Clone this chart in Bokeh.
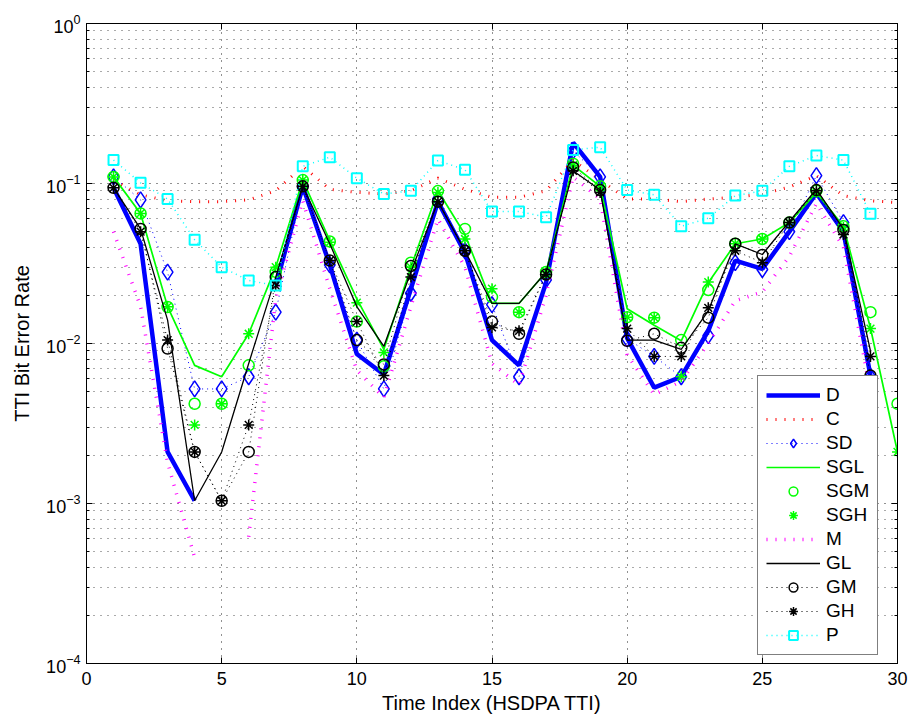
import math
from bokeh.plotting import figure
from bokeh.models import (Legend, LegendItem, FixedTicker, LinearAxis, LogAxis,
                          Range1d, ColumnDataSource)
from bokeh.embed import file_html
from bokeh.resources import INLINE

nan = float("nan")

# ---------------- data ----------------
time_index = list(range(1, 31))

D = [0.094, 0.042, 0.0021, 0.00104, nan, nan, 0.023, 0.096, 0.031, 0.0086,
     0.0064, 0.022, 0.077, 0.037, 0.0105, 0.0073, 0.024, 0.18, 0.11, 0.0108,
     0.0053, 0.0062, 0.012, 0.033, 0.0293, 0.05, 0.087, 0.05, 0.0063, nan]
C = [0.105, 0.085, 0.078, 0.077, 0.077, 0.079, 0.09, 0.128, 0.092, 0.088,
     0.086, 0.09, 0.108, 0.092, 0.082, 0.082, 0.09, 0.14, 0.105, 0.08,
     0.08, 0.077, 0.08, 0.082, 0.086, 0.095, 0.112, 0.084, 0.078, 0.076]
SD = [0.11, 0.079, 0.0279, 0.0052, 0.0052, 0.0062, 0.0157, 0.096, 0.031, 0.0105,
      0.0052, 0.0206, 0.08, 0.038, 0.0175, 0.0062, 0.025, 0.16, 0.11, 0.0107,
      0.0083, 0.0062, 0.0112, 0.032, 0.029, 0.05, 0.112, 0.057, 0.0062, nan]
SGL = [0.11, 0.065, 0.017, 0.0073, 0.0062, 0.0115, 0.030, 0.105, 0.044, 0.019,
       0.0092, 0.03, 0.09, 0.048, 0.0178, 0.0178, 0.028, 0.13, 0.096, 0.0165,
       0.013, 0.0104, 0.024, 0.042, 0.045, 0.057, 0.088, 0.054, 0.0125, 0.0021]
SGM = [0.11, 0.065, 0.0169, 0.0042, 0.0042, 0.0073, 0.028, 0.105, 0.0434, 0.0137,
       0.0072, 0.032, 0.0897, 0.052, 0.0195, 0.0157, 0.028, 0.133, 0.096, 0.0146,
       0.0145, 0.0105, 0.0216, 0.042, 0.045, 0.057, 0.09, 0.054, 0.0157, 0.0042]
SGH = [0.11, 0.065, 0.017, 0.0031, 0.0042, 0.0115, 0.030, 0.105, 0.043, 0.018,
       0.0088, 0.03, 0.088, 0.045, 0.022, 0.0157, 0.028, 0.13, 0.095, 0.0146,
       0.0145, 0.0062, 0.0242, 0.042, 0.045, 0.057, 0.088, 0.053, 0.0124, 0.0021]
M = [0.05, 0.017, 0.0018, 0.00046, nan, 0.00062, 0.019, 0.078, 0.022, 0.0068,
     0.0046, 0.017, 0.06, 0.03, 0.0075, 0.0055, 0.02, 0.11, 0.08, 0.0085,
     0.0048, 0.0058, 0.01, 0.0185, 0.021, 0.035, 0.075, 0.04, 0.005, nan]
GL = [0.094, 0.052, 0.014, 0.00104, 0.0021, 0.0075, 0.026, 0.096, 0.042, 0.017,
      0.0096, 0.028, 0.077, 0.038, 0.0178, 0.0178, 0.028, 0.12, 0.091, 0.0105,
      0.0105, 0.0092, 0.016, 0.042, 0.036, 0.058, 0.092, 0.052, 0.009, nan]
GM = [0.094, 0.052, 0.0093, 0.0021, 0.00104, 0.0021, 0.026, 0.096, 0.033, 0.0105,
      0.0074, 0.0305, 0.077, 0.038, 0.0137, 0.0115, 0.027, 0.126, 0.091, 0.0104,
      0.0115, 0.0094, 0.0145, 0.042, 0.0358, 0.057, 0.091, 0.0513, 0.0063, nan]
GH = [0.094, 0.05, 0.0105, 0.0021, 0.00104, 0.0031, 0.023, 0.096, 0.033, 0.0137,
      0.0063, 0.026, 0.077, 0.038, 0.0126, 0.012, 0.027, 0.12, 0.088, 0.0124,
      0.0083, 0.0083, 0.0167, 0.038, 0.032, 0.057, 0.09, 0.048, 0.0083, nan]
P = [0.14, 0.101, 0.080, 0.0445, 0.030, 0.0248, 0.023, 0.128, 0.146, 0.108,
     0.086, 0.090, 0.139, 0.122, 0.0668, 0.0668, 0.0616, 0.162, 0.1686, 0.091,
     0.085, 0.054, 0.0607, 0.084, 0.090, 0.128, 0.1496, 0.14, 0.0646, nan]

x_ticks = [0, 5, 10, 15, 20, 25, 30]
y_ticks = [1e-4, 1e-3, 1e-2, 1e-1, 1.0]
y_minor = [k * 10.0 ** e for e in range(-4, 0) for k in range(2, 10)]

FONT = "Liberation Sans"

# ---------------- figure ----------------
p = figure(width=912, height=718, y_axis_type="log",
           x_range=Range1d(0, 30), y_range=Range1d(1e-4, 1.0),
           output_backend="svg", toolbar_location=None,
           min_border_left=86, min_border_top=23, min_border_right=15,
           min_border_bottom=55)
p.background_fill_color = "white"
p.border_fill_color = "white"
p.outline_line_color = "black"
p.outline_line_width = 1

xt = FixedTicker(ticks=x_ticks, minor_ticks=[])
yt = FixedTicker(ticks=y_ticks, minor_ticks=y_minor)

p.xaxis.ticker = xt
p.yaxis.ticker = yt
p.xgrid.ticker = xt
p.ygrid.ticker = yt

for ax in (p.xaxis[0], p.yaxis[0]):
    ax.major_tick_in = 6
    ax.major_tick_out = 0
    ax.minor_tick_in = 3
    ax.minor_tick_out = 0
    ax.axis_line_color = "black"
    ax.major_tick_line_color = "black"
    ax.minor_tick_line_color = "black"
    ax.major_label_text_font = FONT
    ax.major_label_text_font_size = "18px"
    ax.major_label_text_color = "black"
    ax.axis_label_text_font = FONT
    ax.axis_label_text_font_size = "20px"
    ax.axis_label_text_font_style = "normal"
    ax.axis_label_text_color = "black"

p.xaxis.axis_label = "Time Index (HSDPA TTI)"
p.yaxis.axis_label = "TTI Bit Error Rate"
p.xaxis.major_label_standoff = 8
p.yaxis.major_label_standoff = 6
p.xaxis.axis_label_standoff = 4
p.yaxis.axis_label_standoff = 10

top_ax = LinearAxis(ticker=xt, major_label_text_font_size="1px",
                    major_label_text_color=None,
                    major_label_standoff=0, major_tick_in=6, major_tick_out=0,
                    minor_tick_in=0, minor_tick_out=0, axis_line_color="black")
right_ax = LogAxis(ticker=yt, major_label_text_font_size="1px",
                   major_label_text_color=None,
                   major_label_standoff=0, major_tick_in=6, major_tick_out=0,
                   minor_tick_in=3, minor_tick_out=0, axis_line_color="black")
p.add_layout(top_ax, "above")
p.add_layout(right_ax, "right")

p.xgrid.grid_line_color = "#222222"
p.xgrid.grid_line_dash = "1 6"
p.xgrid.grid_line_width = 1
p.ygrid.grid_line_color = "#222222"
p.ygrid.grid_line_dash = "1 6"
p.ygrid.grid_line_width = 1
p.ygrid.minor_grid_line_color = "#555555"
p.ygrid.minor_grid_line_dash = "1 6"
p.ygrid.minor_grid_line_width = 1

src = ColumnDataSource(dict(x=time_index, D=D, C=C, SD=SD, SGL=SGL, SGM=SGM,
                            SGH=SGH, M=M, GL=GL, GM=GM, GH=GH, P=P))

items = []

r = p.line("x", "D", source=src, line_color="#0000ff", line_width=4.5)
items.append(LegendItem(label="D", renderers=[r]))

r = p.line("x", "C", source=src, line_color="#ff0000", line_width=3, line_dash="1 8")
items.append(LegendItem(label="C", renderers=[r]))

r1 = p.line("x", "SD", source=src, line_color="#0000ff", line_width=1, line_dash="1 4")
r2 = p.scatter("x", "SD", source=src, marker="diamond", size=16,
               line_color="#0000ff", fill_color=None, line_width=1.5)
items.append(LegendItem(label="SD", renderers=[r1, r2]))

r = p.line("x", "SGL", source=src, line_color="#00ff00", line_width=1.7)
items.append(LegendItem(label="SGL", renderers=[r]))

r = p.scatter("x", "SGM", source=src, marker="circle", size=11,
              line_color="#00ff00", fill_color=None, line_width=1.5)
items.append(LegendItem(label="SGM", renderers=[r]))

r = p.scatter("x", "SGH", source=src, marker="asterisk", size=11,
              line_color="#00ff00", line_width=1.5)
items.append(LegendItem(label="SGH", renderers=[r]))

r = p.line("x", "M", source=src, line_color="#ff00ff", line_width=3.5, line_dash="1 8")
items.append(LegendItem(label="M", renderers=[r]))

r = p.line("x", "GL", source=src, line_color="black", line_width=1.3)
items.append(LegendItem(label="GL", renderers=[r]))

r1 = p.line("x", "GM", source=src, line_color="black", line_width=1, line_dash="1 4")
r2 = p.scatter("x", "GM", source=src, marker="circle", size=11,
               line_color="black", fill_color=None, line_width=1.5)
items.append(LegendItem(label="GM", renderers=[r1, r2]))

r1 = p.line("x", "GH", source=src, line_color="black", line_width=1, line_dash="1 4")
r2 = p.scatter("x", "GH", source=src, marker="asterisk", size=11,
               line_color="black", line_width=1.5)
items.append(LegendItem(label="GH", renderers=[r1, r2]))

r1 = p.line("x", "P", source=src, line_color="#00ffff", line_width=1.5, line_dash="1 4")
r2 = p.scatter("x", "P", source=src, marker="square", size=10,
               line_color="#00ffff", fill_color=None, line_width=2)
items.append(LegendItem(label="P", renderers=[r1, r2]))

legend = Legend(items=items, location=(671, 8))
legend.label_text_font = FONT
legend.label_text_font_size = "19px"
legend.label_text_color = "black"
legend.glyph_width = 54
legend.glyph_height = 22
legend.label_height = 22
legend.spacing = 2
legend.padding = 8
legend.margin = 0
legend.label_standoff = 6
legend.border_line_color = "black"
legend.border_line_width = 1
legend.background_fill_color = "white"
legend.background_fill_alpha = 1
p.add_layout(legend)

open("out.html", "w").write(file_html(p, INLINE))
